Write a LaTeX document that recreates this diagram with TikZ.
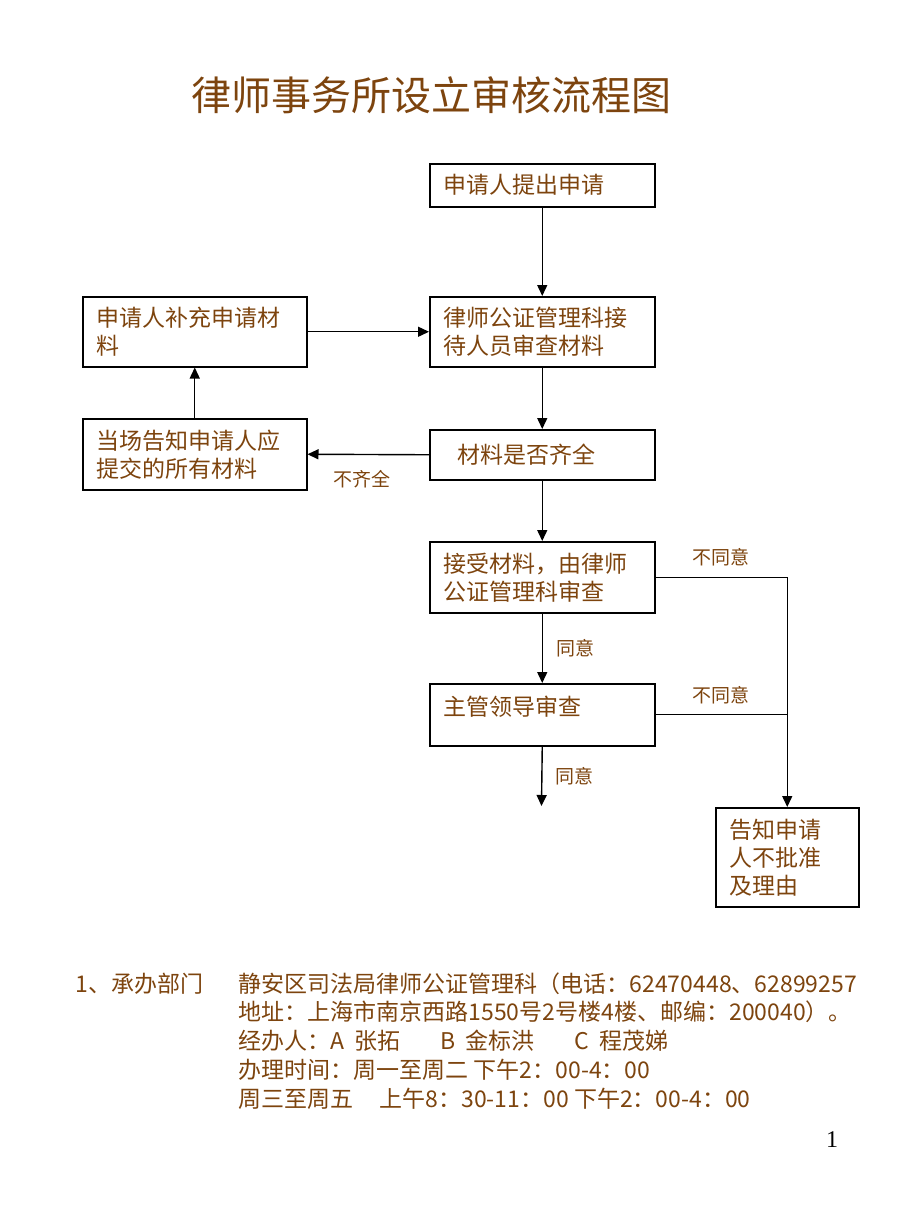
\documentclass[tikz,border=0pt]{standalone}
\usepackage{fontspec}
\setmainfont{Noto Sans CJK SC}
\newfontfamily\pagefont{Liberation Serif}
\usetikzlibrary{arrows.meta}
\definecolor{brn}{RGB}{125,68,14}
\tikzset{
  box/.style={draw, line width=1.5pt, inner xsep=14pt, inner ysep=0pt, anchor=north west,
    align=left, text=brn, font=\fontsize{23}{28}\selectfont},
  lbl/.style={text=brn, font=\fontsize{19}{22}\selectfont},
  note/.style={text=brn, inner sep=0pt, anchor=base west, align=left,
    font=\fontsize{23}{28.7}\selectfont},
}
\begin{document}
\begin{tikzpicture}[x=1pt, y=-1pt, line width=1.4pt, >={Triangle[width=10pt,length=11pt]}]

  \useasboundingbox (0,0) rectangle (920,1227);

  \node[text=brn, font=\fontsize{40}{44}\selectfont] (title) at (431,95) {律师事务所设立审核流程图};

  %% main column
  \node[box, text width=197pt, minimum height=43pt] (apply) at (429,163) {申请人提出申请};
  \node[box, text width=197pt, minimum height=70pt] (reception) at (429,296) {律师公证管理科接\\待人员审查材料};
  \node[box, text width=197pt, minimum height=50pt] (check) at (429,429) {\hspace*{14pt}材料是否齐全};
  \node[box, text width=197pt, minimum height=71pt] (accept) at (429,541) {接受材料，由律师\\公证管理科审查};
  \node[box, text width=197pt, minimum height=62pt] (chief) at (429,683) {\raisebox{8pt}[\height][\depth]{主管领导审查}};
  \coordinate (stop) at (541.5,806);

  %% left column
  \node[box, text width=196pt, minimum height=70pt] (supply) at (82,296) {申请人补充申请材\\料};
  \node[box, text width=196pt, minimum height=71pt] (notify) at (82,418) {当场告知申请人应\\提交的所有材料};

  %% right
  \node[box, text width=115pt, minimum height=99pt] (refuse) at (715,807) {告知申请\\人不批准\\及理由};

  \draw[->] (apply.south) -- (reception.north);
  \draw[->] (supply.east) -- (reception.west);
  \draw[->] (notify.north) -- (supply.south);
  \draw[->] (reception.south) -- (check.north);
  \draw[->] (check.west) -- node[lbl, below=12pt, pos=0.55] {不齐全} (notify.east);
  \draw[->] (check.south) -- (accept.north);
  \draw[->] (accept.south) -- node[lbl, right=10pt] {同意} (chief.north);
  \draw[->] (chief.south) -- node[lbl, right=10pt] {同意} (stop);
  \draw[->] (accept.east) -| node[lbl, pos=0.25, above=7pt] {不同意} (refuse.north);
  \draw (chief.east) -- node[lbl, above=7pt] {不同意} (chief.east -| refuse.north);

  %% notes (base of the last line)
  \node[note] (dept) at (75,992) {1、承办部门};
  \node[note] (info) at (238,1107) {静安区司法局律师公证管理科（电话：62470448、62899257\\
    地址：上海市南京西路1550号2号楼4楼、邮编：200040）。\\
    经办人：A\hspace{10pt}张拓\hspace{40pt}B\hspace{10pt}金标洪\hspace{40pt}C\hspace{10pt}程茂娣\\
    办理时间：周一至周二 下午2：00-4：00\\
    周三至周五\hspace{26pt}上午8：30-11：00 下午2：00-4：00};

  \node[font=\pagefont\fontsize{24}{26}\selectfont] (page) at (832,1140) {1};

\end{tikzpicture}
\end{document}
